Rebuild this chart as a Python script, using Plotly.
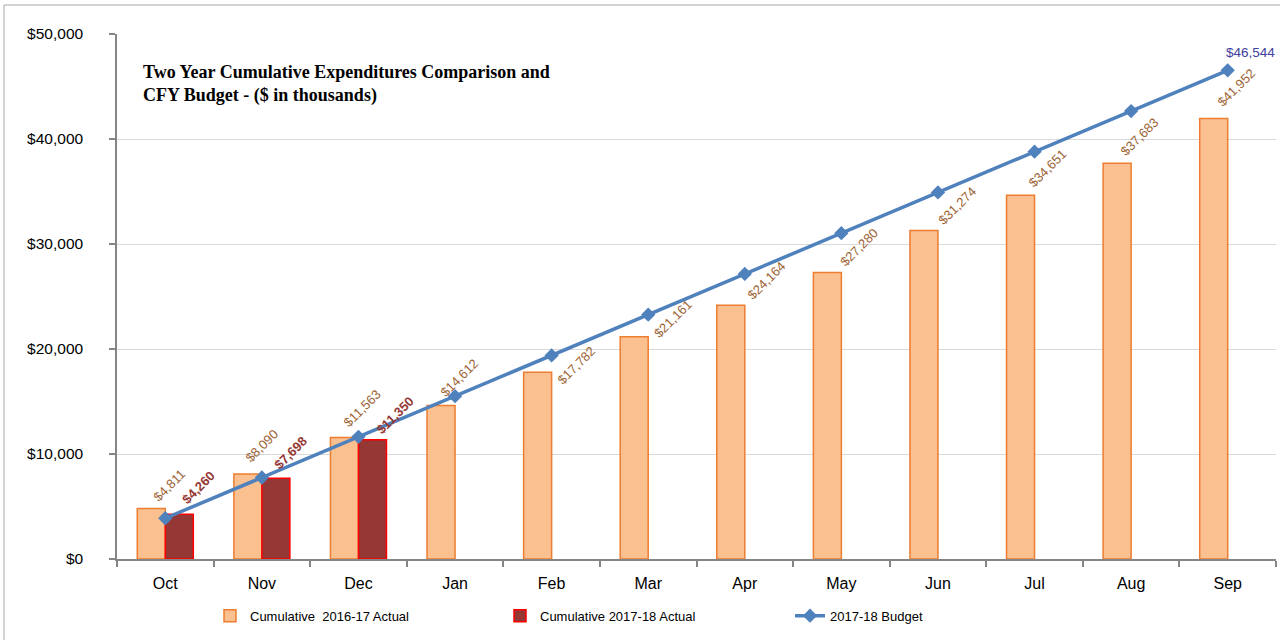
import plotly.graph_objects as go

months = ["Oct", "Nov", "Dec", "Jan", "Feb", "Mar", "Apr", "May", "Jun", "Jul", "Aug", "Sep"]
actual_1617 = [4811, 8090, 11563, 14612, 17782, 21161, 24164, 27280, 31274, 34651, 37683, 41952]
actual_1718 = [4260, 7698, 11350, None, None, None, None, None, None, None, None, None]
budget_1718 = [3880, 7760, 11640, 15510, 19390, 23270, 27150, 31030, 34910, 38790, 42660, 46544]

name_1617 = "Cumulative  2016-17 Actual"
name_1718 = "Cumulative 2017-18 Actual"
name_budget = "2017-18 Budget"
title_text = "Two Year Cumulative Expenditures Comparison and<br>CFY Budget - ($ in thousands)"

# label placement tweaks (pixels): (dx from bar centre, dy down from bar top)
off_1617 = [(-4, -1), (-8, -6), (-7, -5), (-6, -3), (14, 18), (14, 6), (11, 0), (7, 0), (9, 0), (2, -2), (-2, -2), (-2, -6)]
off_1718 = [(-3, -4), (-7, -3), (-2, 0)]

FONT = "Liberation Sans"
L, R, T, B = 117, 4, 34, 81
W, H = 1280, 640
pw, ph = W - L - R, H - T - B

fig = go.Figure()
fig.add_trace(go.Bar(
    x=months, y=actual_1617, name=name_1617,
    marker=dict(color="#FAC090", line=dict(color="#ED7D31", width=1.5)),
))
fig.add_trace(go.Bar(
    x=months, y=actual_1718, name=name_1718,
    marker=dict(color="#953735", line=dict(color="#FF0000", width=1.5)),
))
fig.add_trace(go.Scatter(
    x=months, y=budget_1718, name=name_budget, mode="lines+markers",
    line=dict(color="#4F81BD", width=3.5),
    marker=dict(symbol="diamond", size=11, color="#4F81BD"),
))

annotations = []
for i, (m, v) in enumerate(zip(months, actual_1617)):
    dx, dy = off_1617[i]
    annotations.append(dict(
        x=m, y=v, xref="x", yref="y", text="${:,}".format(v), showarrow=False,
        textangle=-45, xanchor="left", yanchor="bottom",
        xshift=-14 + dx, yshift=-dy,
        font=dict(family=FONT, size=13, color="#9C6334"),
    ))
for i, (m, v) in enumerate(zip(months, actual_1718)):
    if v is None:
        continue
    dx, dy = off_1718[i]
    annotations.append(dict(
        x=m, y=v, xref="x", yref="y", text="<b>${:,}</b>".format(v), showarrow=False,
        textangle=-45, xanchor="left", yanchor="bottom",
        xshift=14 + dx, yshift=-dy,
        font=dict(family=FONT, size=13, color="#953735"),
    ))
annotations.append(dict(
    x=months[-1], y=budget_1718[-1], xref="x", yref="y",
    text="${:,}".format(budget_1718[-1]), showarrow=False,
    xanchor="center", yanchor="bottom", xshift=23, yshift=8,
    font=dict(family=FONT, size=13.5, color="#4040A0"),
))
annotations.append(dict(
    x=(141 - L) / pw, y=(559 - 60) / ph, xref="paper", yref="paper",
    text=title_text, showarrow=False, align="left",
    xanchor="left", yanchor="top",
    font=dict(family="Liberation Serif", size=18, color="#000000", weight="bold"),
))

fig.update_layout(
    width=W, height=H,
    margin=dict(l=L, r=R, t=T, b=B),
    paper_bgcolor="white", plot_bgcolor="white",
    barmode="group", bargap=0.42, bargroupgap=0,
    font=dict(family=FONT, color="#000000"),
    showlegend=True,
    legend=dict(
        orientation="h", x=(210 - L) / pw, xanchor="left", y=-0.108, yanchor="middle",
        font=dict(family=FONT, size=13, color="#000000"),
        entrywidth=245, traceorder="normal",
    ),
    annotations=annotations,
    shapes=[dict(
        type="rect", xref="paper", yref="paper",
        x0=(4 - L) / pw, x1=(1290 - L) / pw,
        y0=(559 - 650) / ph, y1=(559 - 5) / ph,
        line=dict(color="#A6A6A6", width=1), fillcolor="rgba(0,0,0,0)", layer="below",
    )],
)
fig.update_xaxes(
    type="category", range=[-0.5, len(months) - 0.5],
    showline=True, linecolor="#868686", linewidth=1.5,
    ticks="outside", tickson="boundaries", ticklen=6, tickcolor="#868686", tickwidth=1.5,
    showgrid=False, tickfont=dict(family=FONT, size=16, color="#000000"),
    ticklabelstandoff=9,
)
fig.update_yaxes(
    range=[0, 50000], dtick=10000, tickformat="$,",
    showline=True, linecolor="#868686", linewidth=1.5,
    ticks="outside", ticklen=6, tickcolor="#868686", tickwidth=1.5,
    showgrid=True, gridcolor="#D9D9D9", gridwidth=1, zeroline=False,
    tickfont=dict(family=FONT, size=15.5, color="#000000"), ticklabelstandoff=23,
)

fig.write_html("out.html", config={"displayModeBar": False},
               post_script="document.body.style.margin='0';")
